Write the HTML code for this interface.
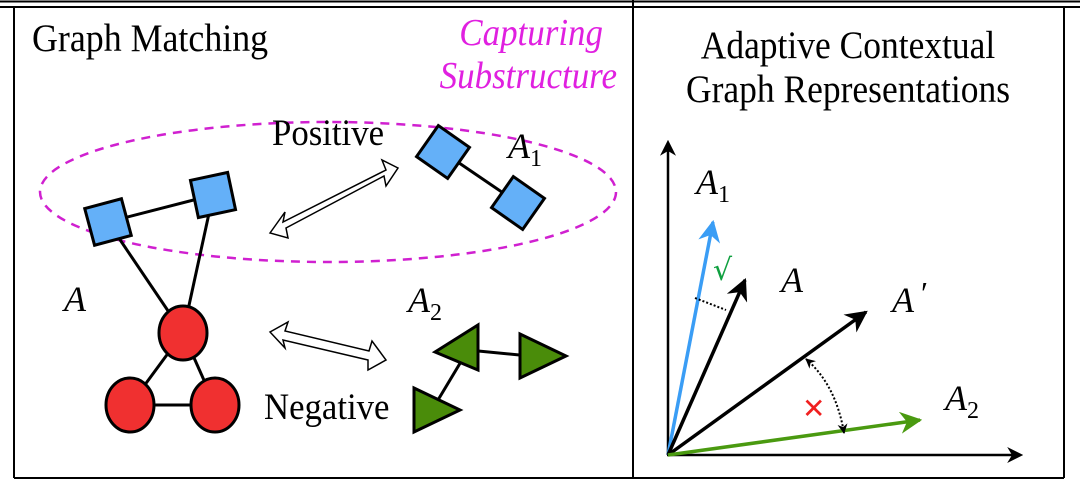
<!DOCTYPE html>
<html><head><style>html,body{margin:0;padding:0;background:#fff}svg{display:block}svg text{font-family:"Liberation Serif","DejaVu Serif",serif}</style></head><body>
<svg width="1080" height="502" viewBox="0 0 1080 502" xmlns="http://www.w3.org/2000/svg">
<defs>
<marker id="ab" viewBox="0 0 10 10" refX="8" refY="5" markerWidth="16" markerHeight="16" orient="auto" markerUnits="userSpaceOnUse"><path d="M0,0 L10,5 L0,10 L3,5z" fill="#000"/></marker>
<marker id="ah" viewBox="0 0 10 10" refX="9" refY="5" markerWidth="22" markerHeight="22" orient="auto" markerUnits="userSpaceOnUse"><path d="M0,0 L10,5 L0,10 L3,5z" fill="#000"/></marker>
<marker id="abl" viewBox="0 0 10 10" refX="9" refY="5" markerWidth="22" markerHeight="22" orient="auto" markerUnits="userSpaceOnUse"><path d="M0,0 L10,5 L0,10 L3,5z" fill="#3a9df5"/></marker>
<marker id="agr" viewBox="0 0 10 10" refX="9" refY="5" markerWidth="22" markerHeight="22" orient="auto" markerUnits="userSpaceOnUse"><path d="M0,0 L10,5 L0,10 L3,5z" fill="#4a9a10"/></marker>
<marker id="sm" viewBox="0 0 10 10" refX="9" refY="5" markerWidth="10" markerHeight="10" orient="auto-start-reverse" markerUnits="userSpaceOnUse"><path d="M0,0 L10,5 L0,10 L3,5z" fill="#000"/></marker>
</defs>
<!-- frame -->
<line x1="0" y1="1.5" x2="1080" y2="1.5" stroke="#000" stroke-width="2"/>
<line x1="0" y1="7" x2="1080" y2="7" stroke="#000" stroke-width="2"/>
<line x1="14" y1="7" x2="14" y2="478" stroke="#000" stroke-width="2"/>
<line x1="633" y1="0" x2="633" y2="478" stroke="#000" stroke-width="2"/>
<line x1="1064" y1="7" x2="1064" y2="478" stroke="#000" stroke-width="2"/>
<line x1="14" y1="478" x2="1064" y2="478" stroke="#000" stroke-width="2"/>
<!-- titles -->
<text x="32" y="51" font-size="39" transform="translate(32 0) scale(0.92 1) translate(-32 0)">Graph Matching</text>
<text x="603" y="45" font-size="38" font-style="italic" fill="#e020e0" text-anchor="end" transform="translate(603 0) scale(0.92 1) translate(-603 0)">Capturing</text>
<text x="617" y="88" font-size="38" font-style="italic" fill="#e020e0" text-anchor="end" transform="translate(617 0) scale(0.92 1) translate(-617 0)">Substructure</text>
<text x="848" y="58" font-size="39" text-anchor="middle" transform="translate(848 0) scale(0.91 1) translate(-848 0)">Adaptive Contextual</text>
<text x="848" y="102" font-size="39" text-anchor="middle" transform="translate(848 0) scale(0.91 1) translate(-848 0)">Graph Representations</text>
<!-- ellipse -->
<ellipse cx="328" cy="192" rx="288" ry="70" fill="none" stroke="#d020d0" stroke-width="2.5" stroke-dasharray="9,7"/>
<!-- edges -->
<g stroke="#000" stroke-width="3">
<line x1="108" y1="222" x2="213" y2="195"/>
<line x1="108" y1="222" x2="183" y2="333"/>
<line x1="213" y1="195" x2="183" y2="333"/>
<line x1="183" y1="333" x2="130" y2="405"/>
<line x1="183" y1="333" x2="215" y2="405"/>
<line x1="130" y1="405" x2="215" y2="405"/>
<line x1="443" y1="152" x2="518" y2="203"/>
<line x1="468" y1="350" x2="540" y2="357"/>
<line x1="468" y1="350" x2="432" y2="410"/>
</g>
<g fill="#64b0f8" stroke="#000" stroke-width="3">
<rect x="-19" y="-19" width="38" height="38" transform="translate(108 222) rotate(-15)"/>
<rect x="-19" y="-19" width="38" height="38" transform="translate(213 195) rotate(-12)"/>
<rect x="-19" y="-19" width="38" height="38" transform="translate(443 152) rotate(35)"/>
<rect x="-19" y="-19" width="38" height="38" transform="translate(518 203) rotate(35)"/>
</g>
<g fill="#f03030" stroke="#000" stroke-width="3">
<ellipse cx="183" cy="333" rx="24" ry="27"/>
<ellipse cx="130" cy="405" rx="24" ry="27"/>
<ellipse cx="215" cy="405" rx="24" ry="27"/>
</g>
<g fill="#4a8c0a" stroke="#000" stroke-width="3" stroke-linejoin="miter">
<polygon points="435,352 478,325 478,370"/>
<polygon points="520,334 566,356 520,378"/>
<polygon points="414,388 460,410 414,432"/>
</g>
<!-- double arrows -->
<g fill="#fff" stroke="#000" stroke-width="1.5">
<polygon points="270,233 285,212 283,222 386,170 382,160 398,168 386,186 384,176 286,228 288,238" />
<polygon points="270,332 288,322 285,331 369,351 372,341 386,360 368,370 368,360 283,340 285,348"/>
</g>
<text x="272" y="145" font-size="37" transform="translate(272 0) scale(0.94 1) translate(-272 0)">Positive</text>
<text x="264" y="419" font-size="37" transform="translate(264 0) scale(0.94 1) translate(-264 0)">Negative</text>
<g font-style="italic" font-size="36">
<text x="64" y="311">A</text>
<text x="508" y="158">A<tspan font-size="24" font-style="normal" dy="8">1</tspan></text>
<text x="408" y="312">A<tspan font-size="24" font-style="normal" dy="8">2</tspan></text>
</g>
<!-- right panel -->
<line x1="668" y1="455" x2="668" y2="143" stroke="#000" stroke-width="2.5" marker-end="url(#ab)"/>
<line x1="667" y1="455" x2="1020" y2="455" stroke="#000" stroke-width="2.5" marker-end="url(#ab)"/>
<line x1="668" y1="455" x2="713" y2="222" stroke="#3a9df5" stroke-width="3.5" marker-end="url(#abl)"/>
<line x1="668" y1="455" x2="745" y2="280" stroke="#000" stroke-width="3.5" marker-end="url(#ah)"/>
<line x1="668" y1="455" x2="866" y2="312" stroke="#000" stroke-width="3.5" marker-end="url(#ah)"/>
<line x1="668" y1="455" x2="920" y2="420" stroke="#4a9a10" stroke-width="3.5" marker-end="url(#agr)"/>
<line x1="695" y1="298" x2="726" y2="310" stroke="#000" stroke-width="2" stroke-dasharray="2,2"/>
<path d="M806,359 Q836,385 844,433" fill="none" stroke="#000" stroke-width="2" stroke-dasharray="2,2" marker-start="url(#sm)" marker-end="url(#sm)"/>
<text x="802" y="418" font-size="28" fill="#f02020" style="font-family:'DejaVu Sans',sans-serif">✕</text>
<text x="713" y="280" font-size="30" fill="#10a040" style="font-family:'DejaVu Sans',sans-serif">√</text>
<g font-style="italic" font-size="36">
<text x="696" y="194">A<tspan font-size="24" font-style="normal" dy="8">1</tspan></text>
<text x="781" y="292">A</text>
<text x="892" y="312">A</text><text x="921" y="304" font-size="32" font-style="normal">′</text>
<text x="945" y="410">A<tspan font-size="24" font-style="normal" dy="8">2</tspan></text>
</g>
</svg>
</body></html>
